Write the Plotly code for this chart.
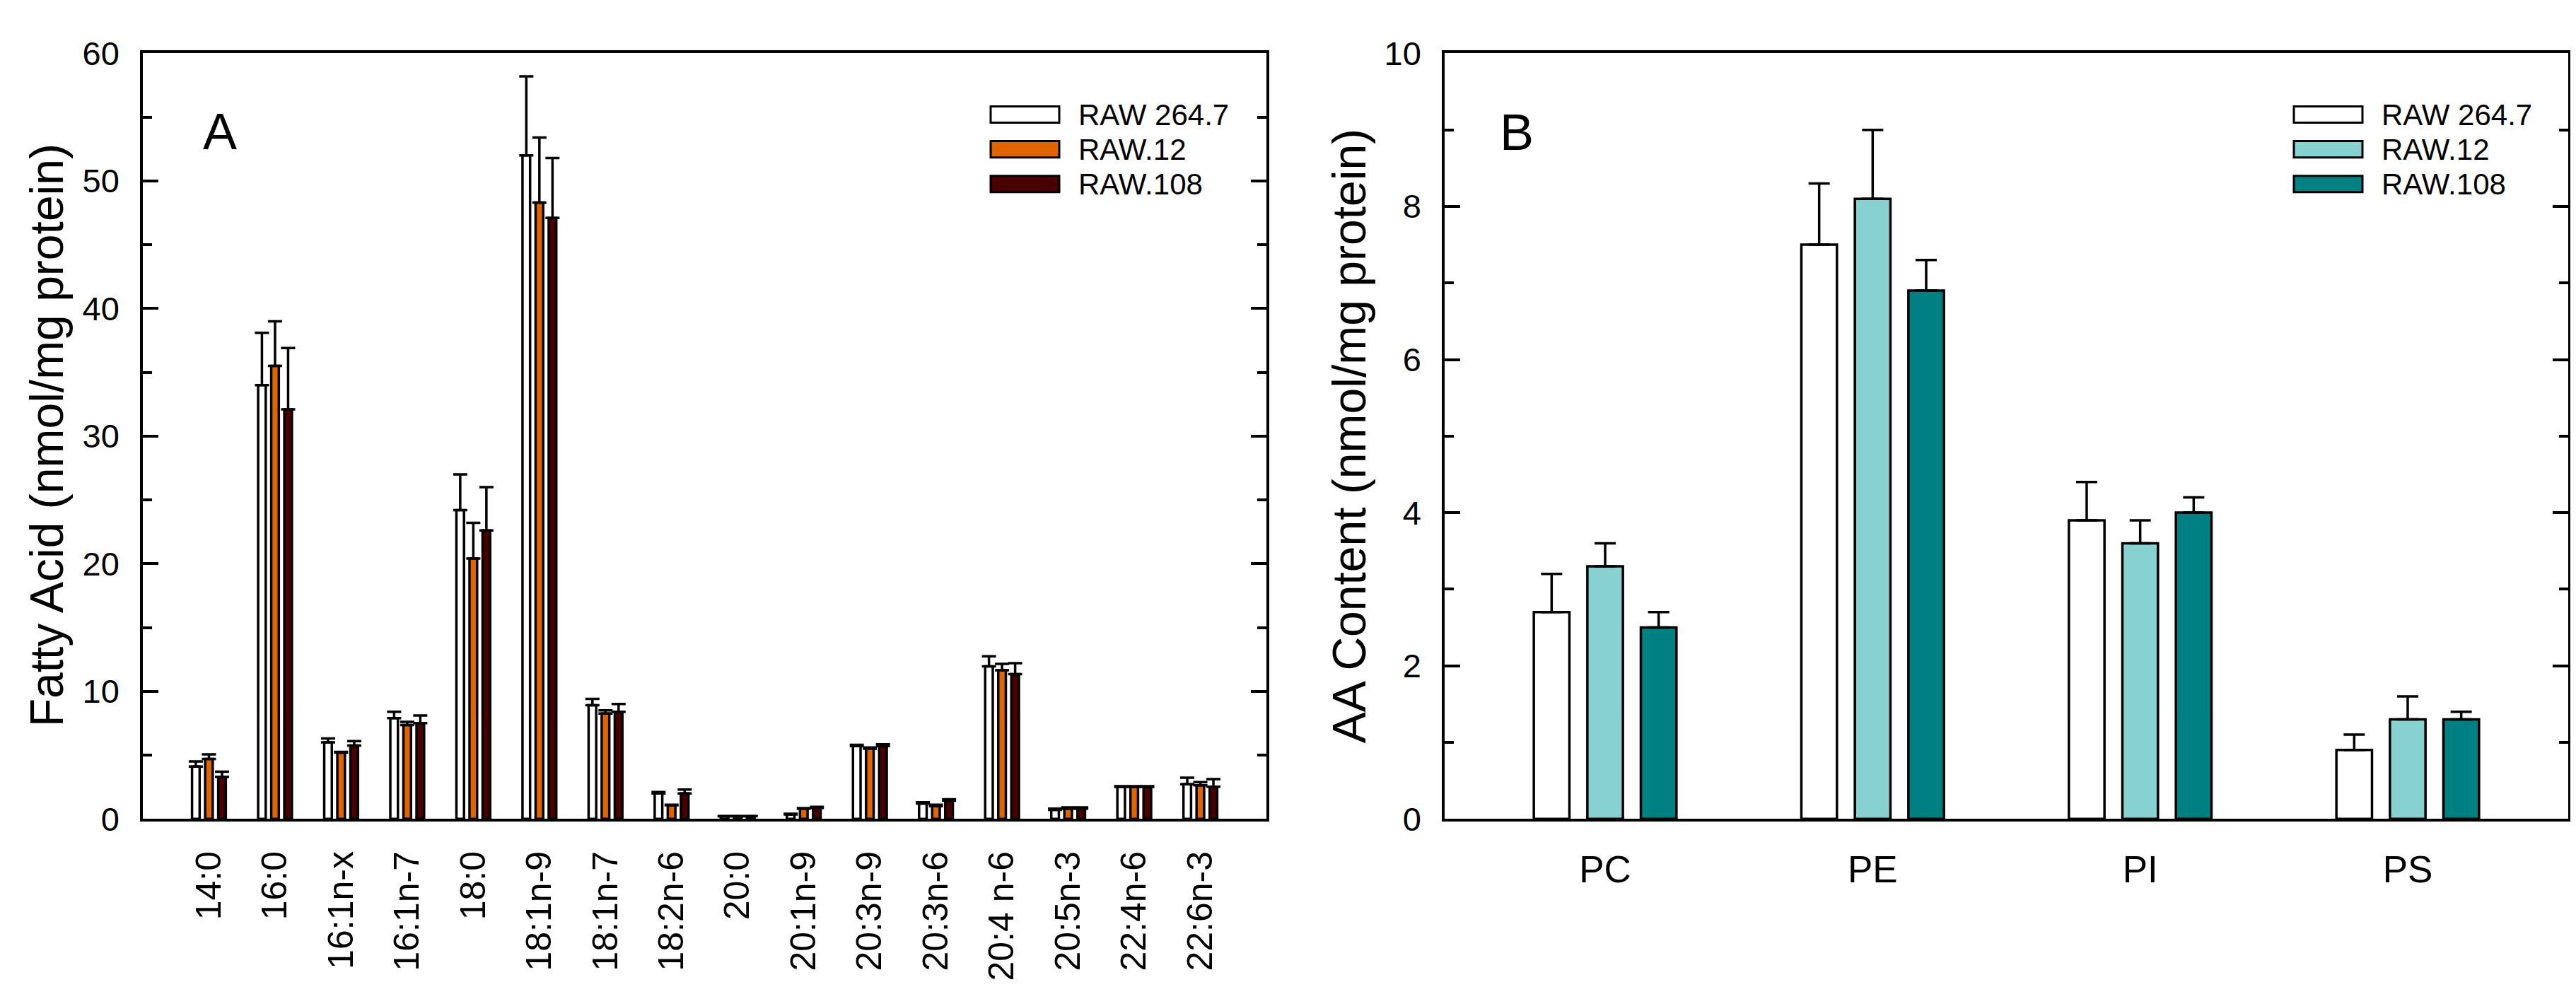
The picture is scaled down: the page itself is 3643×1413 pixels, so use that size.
import plotly.graph_objects as go

# ---------------- data ----------------
fa_categories = ["14:0", "16:0", "16:1n-x", "16:1n-7", "18:0", "18:1n-9", "18:1n-7", "18:2n-6",
                 "20:0", "20:1n-9", "20:3n-9", "20:3n-6", "20:4 n-6", "20:5n-3", "22:4n-6", "22:6n-3"]
series_names = ["RAW 264.7", "RAW.12", "RAW.108"]

fa_raw264 = [4.1, 34.0, 6.0, 7.9, 24.2, 52.0, 8.9, 2.0, 0.2, 0.35, 5.7, 1.2, 11.95, 0.7, 2.5, 2.72]
fa_raw264_err = [0.4, 4.1, 0.3, 0.5, 2.8, 6.2, 0.5, 0.1, 0.02, 0.05, 0.1, 0.1, 0.8, 0.1, 0.06, 0.5]
fa_raw12 = [4.7, 35.5, 5.2, 7.35, 20.4, 48.3, 8.25, 1.06, 0.2, 0.8, 5.5, 1.0, 11.65, 0.8, 2.5, 2.63]
fa_raw12_err = [0.35, 3.5, 0.05, 0.25, 2.8, 5.1, 0.25, 0.05, 0.02, 0.05, 0.1, 0.1, 0.5, 0.1, 0.06, 0.25]
fa_raw108 = [3.3, 32.1, 5.75, 7.5, 22.6, 47.1, 8.4, 2.0, 0.2, 0.86, 5.7, 1.43, 11.35, 0.8, 2.5, 2.52]
fa_raw108_err = [0.4, 4.8, 0.35, 0.6, 3.4, 4.7, 0.6, 0.3, 0.02, 0.08, 0.14, 0.1, 0.85, 0.1, 0.06, 0.6]

pl_categories = ["PC", "PE", "PI", "PS"]
aa_raw264 = [2.7, 7.5, 3.9, 0.9]
aa_raw264_err = [0.5, 0.8, 0.5, 0.2]
aa_raw12 = [3.3, 8.1, 3.6, 1.3]
aa_raw12_err = [0.3, 0.9, 0.3, 0.3]
aa_raw108 = [2.5, 6.9, 4.0, 1.3]
aa_raw108_err = [0.2, 0.4, 0.2, 0.1]

# ---------------- style ----------------
FONT = "Liberation Sans, Arial, sans-serif"
W, H = 3643, 1413
colors_a = ["#FFFFFF", "#E06400", "#4B0000"]
colors_b = ["#FFFFFF", "#88D1D1", "#008080"]

fig = go.Figure()

def add_bars(x, ys, errs, colors, xaxis, yaxis, width, pitch, capw):
    for i, (y, e, c, name) in enumerate(zip(ys, errs, colors, series_names)):
        center = (i - 1) * pitch
        fig.add_trace(go.Bar(
            x=x, y=y, name=name, xaxis=xaxis, yaxis=yaxis,
            width=width, offset=center - width / 2,
            marker=dict(color=c, line=dict(color="black", width=3.5)),
            error_y=dict(type="data", symmetric=False, array=e, arrayminus=[0] * len(e),
                         color="black", thickness=3.5, width=capw),
            showlegend=False,
        ))

add_bars(fa_categories, [fa_raw264, fa_raw12, fa_raw108],
         [fa_raw264_err, fa_raw12_err, fa_raw108_err], colors_a, "x", "y", 0.115, 0.198, 10)
add_bars(pl_categories, [aa_raw264, aa_raw12, aa_raw108],
         [aa_raw264_err, aa_raw12_err, aa_raw108_err], colors_b, "x2", "y2", 0.133, 0.2, 15)

ytop = 1 - 42 / H
ybot = 1 - 1167 / H
xa0, xa1 = 194 / W, 1783 / W
xb0, xb1 = 2035 / W, 3624 / W

x_common = dict(showline=True, linecolor="black", linewidth=3.5, mirror=True,
                showgrid=False, zeroline=False)
y_common = dict(showline=True, linecolor="black", linewidth=3.5, mirror="ticks",
                showgrid=False, zeroline=False)

fig.update_layout(
    width=W, height=H, margin=dict(l=0, r=0, t=0, b=0),
    paper_bgcolor="white", plot_bgcolor="white",
    barmode="overlay", showlegend=False,
    font=dict(family=FONT, color="black"),
    xaxis=dict(domain=[xa0, xa1], anchor="y", type="category", range=[-1, 16],
               ticks="", tickangle=-90, tickfont=dict(size=50, family=FONT),
               ticklabelstandoff=22, **x_common),
    yaxis=dict(domain=[ybot, ytop], anchor="x", range=[0, 60], dtick=10,
               ticks="inside", ticklen=22, tickwidth=3.5, tickcolor="black",
               minor=dict(ticks="inside", dtick=5, ticklen=13, tickwidth=3.5, tickcolor="black"),
               tickfont=dict(size=47, family=FONT), ticklabelstandoff=20, **y_common),
    xaxis2=dict(domain=[xb0, xb1], anchor="y2", type="category", range=[-0.6, 3.6],
                ticks="", tickfont=dict(size=53, family=FONT), ticklabelstandoff=22,
                **x_common),
    yaxis2=dict(domain=[ybot, ytop], anchor="x2", range=[0, 10], dtick=2,
                ticks="inside", ticklen=22, tickwidth=3.5, tickcolor="black",
                minor=dict(ticks="inside", dtick=1, ticklen=13, tickwidth=3.5, tickcolor="black"),
                tickfont=dict(size=47, family=FONT), ticklabelstandoff=20, **y_common),
)

ymid = 1 - 604 / H
annotations = [
    dict(text="Fatty Acid (nmol/mg protein)", x=58 / W, y=ymid, textangle=-90,
         font=dict(size=66, family=FONT)),
    dict(text="AA Content (nmol/mg protein)", x=1900 / W, y=ymid, textangle=-90,
         font=dict(size=66, family=FONT)),
    dict(text="A", x=277 / W, y=1 - 157 / H, xanchor="left", font=dict(size=72, family=FONT)),
    dict(text="B", x=2111 / W, y=1 - 158 / H, xanchor="left", font=dict(size=72, family=FONT)),
]

shapes = []
rows = [132, 183, 234]
for sx0, sx1, tx, cols in [(1393, 1490, 1515, colors_a), (3236, 3333, 3358, colors_b)]:
    for r, c, name in zip(rows, cols, series_names):
        shapes.append(dict(type="rect", xref="paper", yref="paper",
                           x0=sx0 / W, x1=sx1 / W, y0=1 - (r + 12) / H, y1=1 - (r - 12) / H,
                           fillcolor=c, line=dict(color="black", width=3)))
        annotations.append(dict(text=name, x=tx / W, y=1 - r / H, xanchor="left",
                                yanchor="middle", font=dict(size=42, family=FONT)))

for a in annotations:
    a.setdefault("xref", "paper")
    a.setdefault("yref", "paper")
    a.setdefault("showarrow", False)
    a.setdefault("xanchor", "center")
    a.setdefault("yanchor", "middle")

fig.update_layout(annotations=annotations, shapes=shapes)
fig.write_html("out.html")
